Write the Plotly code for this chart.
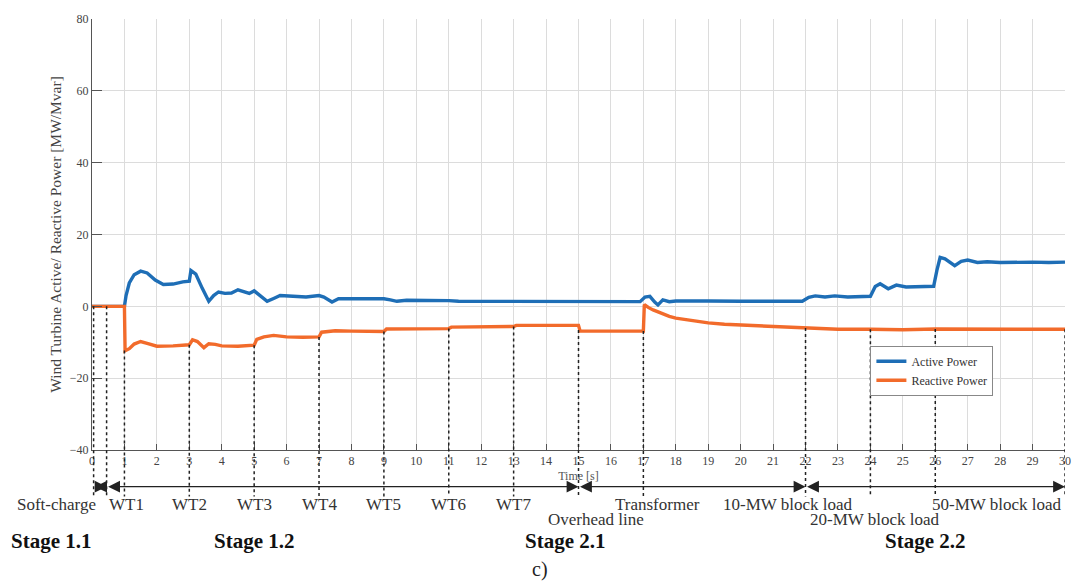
import numpy as np
import plotly.graph_objects as go

# ---------------- data ----------------
t_active = [0, 1.0, 1.05, 1.15, 1.3, 1.5, 1.7, 1.95, 2.2, 2.5, 2.8, 3.0, 3.05, 3.2, 3.4, 3.6, 3.75, 3.9,
            4.1, 4.3, 4.5, 4.7, 4.85, 5.0, 5.15, 5.4, 5.6, 5.8, 6.2, 6.6, 7.0, 7.15, 7.4, 7.6, 8.0, 8.5,
            9.0, 9.2, 9.4, 9.7, 10.5, 11.0, 11.3, 12, 13, 14, 15, 16, 16.9, 17.05, 17.2, 17.35, 17.45,
            17.6, 17.8, 18.0, 18.5, 19, 20, 21, 21.9, 22.1, 22.3, 22.6, 22.9, 23.3, 23.7, 24.0, 24.15,
            24.3, 24.55, 24.8, 25.1, 25.5, 25.95, 26.05, 26.15, 26.3, 26.6, 26.8, 27.0, 27.3, 27.6, 28,
            28.5, 29, 29.5, 30]
p_active = [0, 0, 3.0, 6.5, 8.8, 9.8, 9.3, 7.3, 6.1, 6.2, 6.8, 7.0, 10.0, 9.0, 5.0, 1.4, 3.0, 4.0,
            3.6, 3.7, 4.6, 3.9, 3.6, 4.3, 3.3, 1.4, 2.2, 3.0, 2.8, 2.6, 3.0, 2.6, 1.2, 2.1, 2.1, 2.0,
            2.1, 1.8, 1.4, 1.7, 1.7, 1.6, 1.4, 1.4, 1.3, 1.2, 1.2, 1.2, 1.3, 2.6, 2.8, 1.2, 0.4,
            1.8, 1.3, 1.5, 1.4, 1.5, 1.4, 1.4, 1.4, 2.5, 2.9, 2.6, 2.9, 2.6, 2.8, 2.8, 5.5,
            6.3, 4.9, 5.9, 5.4, 5.5, 5.6, 10.0, 13.6, 13.2, 11.3, 12.5, 12.9, 12.2, 12.4, 12.2,
            12.3, 12.3, 12.2, 12.3]

t_reactive = [0, 1.0, 1.02, 1.15, 1.3, 1.5, 1.7, 2.0, 2.5, 3.0, 3.1, 3.25, 3.45, 3.6, 3.8, 4.0, 4.5,
              5.0, 5.08, 5.3, 5.6, 6.0, 6.5, 7.0, 7.08, 7.5, 8, 9.0, 9.08, 10, 11.0, 11.08, 12, 13.0,
              13.08, 14, 15.0, 15.05, 16, 17.0, 17.03, 17.15, 17.3, 17.5, 17.8, 18.0, 18.5, 19.0,
              19.5, 20.0, 21, 22, 23, 24, 25, 26, 27, 28, 29, 30]
q_reactive = [0, 0, -12.4, -11.8, -10.5, -9.8, -10.3, -11.1, -11.0, -10.7, -9.3, -9.8, -11.5, -10.4,
              -10.6, -11.0, -11.1, -10.8, -9.2, -8.5, -8.1, -8.5, -8.6, -8.5, -7.2, -6.8, -6.9, -7.0,
              -6.3, -6.2, -6.2, -5.8, -5.7, -5.6, -5.3, -5.3, -5.3, -6.9, -6.8, -6.9, 0.5, -0.3,
              -1.0, -1.8, -2.8, -3.3, -4.0, -4.6, -5.0, -5.2, -5.6, -6.0, -6.4, -6.4, -6.5, -6.3,
              -6.4, -6.4, -6.4, -6.4]

event_times = [0.05, 0.45, 1, 3, 5, 7, 9, 11, 13, 15, 17, 22, 24, 26, 30]
arrow_bounds = [0.05, 0.45, 15, 22, 30]

row1_labels = ["Soft-charge", "WT1", "WT2", "WT3", "WT4", "WT5", "WT6", "WT7", "Transformer",
               "10-MW block load", "50-MW block load"]
row1_x = [-1.1, 1.05, 3, 5, 7, 9, 11, 13, 17.45, 21.45, 27.9]
row2_labels = ["Overhead line", "20-MW block load"]
row2_x = [15.55, 24.15]
stage_labels = ["Stage 1.1", "Stage 1.2", "Stage 2.1", "Stage 2.2"]
stage_x = [-1.25, 5.0, 14.6, 25.7]

x_ticks = list(range(0, 31))
y_ticks = [-40, -20, 0, 20, 40, 60, 80]

BLUE = "#1E6EB6"
ORANGE = "#F26B2B"
SERIF = "Liberation Serif"
X0, X1 = 0, 30
Y0, Y1 = -40, 80

def xp(v):
    return (v - X0) / (X1 - X0)

def yp(v):
    return (v - Y0) / (Y1 - Y0)

fig = go.Figure()
fig.add_trace(go.Scatter(x=t_active, y=p_active, mode="lines", name="Active Power",
                         line=dict(color=BLUE, width=3.4)))
fig.add_trace(go.Scatter(x=t_reactive, y=q_reactive, mode="lines", name="Reactive Power",
                         line=dict(color=ORANGE, width=3.4)))

shapes = []
for te in event_times:
    v = min(np.interp(te - 0.04, t_reactive, q_reactive), np.interp(te + 0.04, t_reactive, q_reactive))
    shapes.append(dict(type="line", xref="x", yref="paper", x0=te, x1=te, y0=yp(v), y1=-0.108,
                       line=dict(color="#222", width=1.5, dash="dot"), layer="above"))

annotations = []
ARROW_Y = -0.085
for a, b in zip(arrow_bounds[:-1], arrow_bounds[1:]):
    annotations.append(dict(x=b, y=ARROW_Y, xref="x", yref="paper", ax=a, axref="x", ay=0,
                            ayref="pixel", text="", showarrow=True, arrowhead=2, arrowside="end+start",
                            arrowsize=1.7, arrowwidth=1.4, arrowcolor="#222", standoff=0, startstandoff=0))
for lab, xv in zip(row1_labels, row1_x):
    annotations.append(dict(x=xp(xv), y=-0.127, xref="paper", yref="paper", text=lab, showarrow=False,
                            font=dict(family=SERIF, size=17, color="#333"), xanchor="center", yanchor="middle"))
for lab, xv in zip(row2_labels, row2_x):
    annotations.append(dict(x=xp(xv), y=-0.161, xref="paper", yref="paper", text=lab, showarrow=False,
                            font=dict(family=SERIF, size=17, color="#333"), xanchor="center", yanchor="middle"))
for lab, xv in zip(stage_labels, stage_x):
    annotations.append(dict(x=xp(xv), y=-0.21, xref="paper", yref="paper", text="<b>" + lab + "</b>",
                            showarrow=False, font=dict(family=SERIF, size=21, color="#111"),
                            xanchor="center", yanchor="middle"))
annotations.append(dict(x=xp(13.8), y=-0.277, xref="paper", yref="paper", text="c)", showarrow=False,
                        font=dict(family=SERIF, size=20, color="#222"), xanchor="center", yanchor="middle"))

fig.update_layout(
    width=1083, height=585,
    margin=dict(l=92, r=13, t=16, b=135),
    paper_bgcolor="white", plot_bgcolor="white",
    shapes=shapes, annotations=annotations,
    showlegend=True,
    legend=dict(x=0.8, y=0.242, xanchor="left", yanchor="top", bgcolor="white",
                bordercolor="#888", borderwidth=1, font=dict(family=SERIF, size=12, color="#333"),
                tracegroupgap=0, itemwidth=30),
    xaxis=dict(range=[X0, X1], tickvals=x_ticks, ticktext=[str(v) for v in x_ticks],
               showgrid=True, gridcolor="#dcdcdc", gridwidth=1, zeroline=False,
               showline=True, linecolor="#555", linewidth=1, ticks="inside", ticklen=6, tickcolor="#555",
               tickfont=dict(family=SERIF, size=12, color="#444"),
               title=dict(text="Time [s]", font=dict(family=SERIF, size=12, color="#555"), standoff=4)),
    yaxis=dict(range=[Y0, Y1], tickvals=y_ticks, showgrid=True, gridcolor="#dcdcdc", gridwidth=1,
               zeroline=False, showline=True, linecolor="#555", linewidth=1, ticks="inside", ticklen=10,
               tickcolor="#555", tickfont=dict(family=SERIF, size=12, color="#444"),
               title=dict(text="Wind Turbine Active/ Reactive Power [MW/Mvar]",
                          font=dict(family=SERIF, size=15.5, color="#444"), standoff=4)),
)

fig.write_html("out.html")
